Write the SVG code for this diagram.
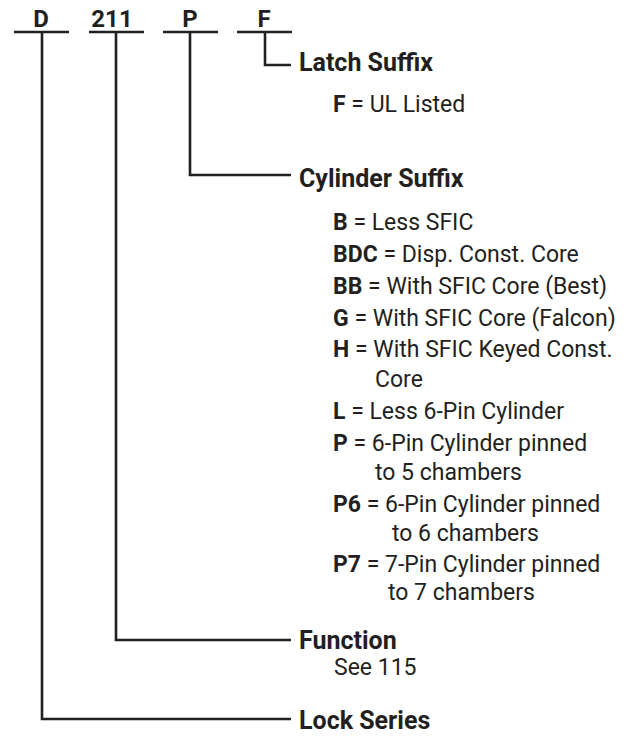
<svg xmlns="http://www.w3.org/2000/svg" width="636" height="738" viewBox="0 0 636 738">
<style>
text{font-family:Roboto,"Liberation Sans",sans-serif;fill:#231f20}
.code{font-size:24px;font-weight:700;text-anchor:middle}
.head{font-size:25px;font-weight:700}
.item{font-size:23px;font-weight:400}
.b{font-weight:700}
.ln{fill:none;stroke:#231f20;stroke-width:2.6}
</style>
<rect width="636" height="738" fill="#fff"/>
<g id="code">
<text class="code" x="41" y="27">D</text>
<text class="code" x="112" y="27">211</text>
<text class="code" x="190" y="27">P</text>
<text class="code" x="264" y="27">F</text>
</g>
<g id="connectors" class="ln">
<path d="M14 32H69M89 32H144M163 32H218M237 32H292"/>
<path d="M265 32V65H291"/>
<path d="M190 32V175H291"/>
<path d="M116 32V640H291"/>
<path d="M42 32V719H291"/>
</g>
<g id="latch">
<text class="head" x="299" y="71">Latch Suffix</text>
<text class="item" x="333" y="112"><tspan class="b">F</tspan> = UL Listed</text>
</g>
<g id="cylinder">
<text class="head" x="299" y="187">Cylinder Suffix</text>
<text class="item" x="333" y="230"><tspan class="b">B</tspan> = Less SFIC</text>
<text class="item" x="333" y="262"><tspan class="b">BDC</tspan> = Disp. Const. Core</text>
<text class="item" x="333" y="294"><tspan class="b">BB</tspan> = With SFIC Core (Best)</text>
<text class="item" x="333" y="326"><tspan class="b">G</tspan> = With SFIC Core (Falcon)</text>
<text class="item" x="333" y="357"><tspan class="b">H</tspan> = With SFIC Keyed Const.</text>
<text class="item" x="375" y="387">Core</text>
<text class="item" x="333" y="419"><tspan class="b">L</tspan> = Less 6-Pin Cylinder</text>
<text class="item" x="333" y="451"><tspan class="b">P</tspan> = 6-Pin Cylinder pinned</text>
<text class="item" x="375" y="480">to 5 chambers</text>
<text class="item" x="333" y="512"><tspan class="b">P6</tspan> = 6-Pin Cylinder pinned</text>
<text class="item" x="392" y="541">to 6 chambers</text>
<text class="item" x="333" y="572"><tspan class="b">P7</tspan> = 7-Pin Cylinder pinned</text>
<text class="item" x="388" y="600">to 7 chambers</text>
</g>
<g id="function">
<text class="head" x="299" y="649">Function</text>
<text class="item" x="334" y="675">See 115</text>
</g>
<g id="lockseries">
<text class="head" x="299" y="729">Lock Series</text>
</g>
</svg>
